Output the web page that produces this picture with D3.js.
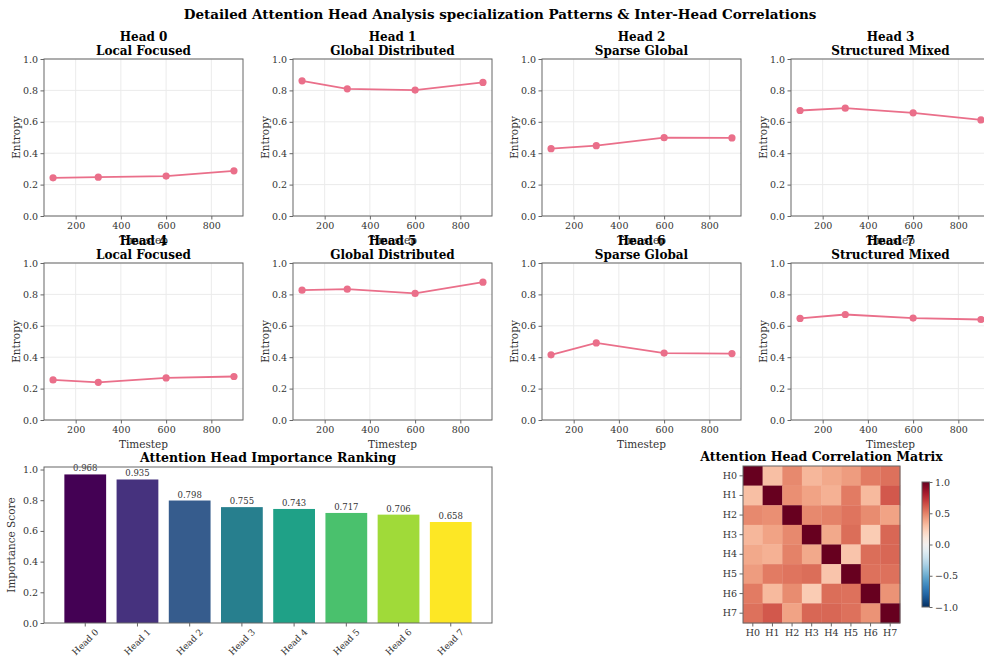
<!DOCTYPE html>
<html>
<head>
<meta charset="utf-8">
<script src="https://d3js.org/d3.v7.min.js"></script>
<style>
	body { margin: 0; background: #fff; }
	svg { display: block; font-family: "DejaVu Serif", serif; }
	.tick text { fill: #333; }
</style>
</head>
<body>
<div id="chart"></div>
<script>

// ---- data ----
var timesteps = [100, 300, 600, 900];
var headNames = ["Head 0", "Head 1", "Head 2", "Head 3", "Head 4", "Head 5", "Head 6", "Head 7"];
var headTypes = ["Local Focused", "Global Distributed", "Sparse Global", "Structured Mixed",
				 "Local Focused", "Global Distributed", "Sparse Global", "Structured Mixed"];
var entropy = [
	[0.243, 0.247, 0.254, 0.288],
	[0.861, 0.810, 0.802, 0.851],
	[0.429, 0.448, 0.499, 0.497],
	[0.672, 0.687, 0.657, 0.612],
	[0.255, 0.240, 0.268, 0.277],
	[0.827, 0.833, 0.806, 0.878],
	[0.415, 0.491, 0.426, 0.423],
	[0.647, 0.672, 0.649, 0.640]
];
var importance = [0.968, 0.935, 0.798, 0.755, 0.743, 0.717, 0.706, 0.658];
var corrLabels = ["H0", "H1", "H2", "H3", "H4", "H5", "H6", "H7"];
var corrMatrix = [
	[1.00, 0.30, 0.48, 0.33, 0.38, 0.42, 0.52, 0.55],
	[0.30, 1.00, 0.46, 0.40, 0.35, 0.52, 0.32, 0.62],
	[0.48, 0.46, 1.00, 0.48, 0.50, 0.54, 0.47, 0.40],
	[0.33, 0.40, 0.48, 1.00, 0.38, 0.56, 0.25, 0.58],
	[0.38, 0.35, 0.50, 0.38, 1.00, 0.28, 0.56, 0.58],
	[0.42, 0.52, 0.54, 0.56, 0.28, 1.00, 0.55, 0.55],
	[0.52, 0.32, 0.47, 0.25, 0.56, 0.55, 1.00, 0.45],
	[0.55, 0.62, 0.40, 0.58, 0.58, 0.55, 0.45, 1.00]
];
var yTicks = [0, 0.2, 0.4, 0.6, 0.8, 1.0];
var xTicks = [200, 400, 600, 800];
var cbarTicks = [1.0, 0.5, 0.0, -0.5, -1.0];

var W = 984, H = 662;
var lineColor = "#ea6f8a";
var spineColor = "#666";
var gridColor = "#ebebeb";

var svg = d3.select("#chart").append("svg")
	.attr("width", W)
	.attr("height", H);

// Figure title
svg.append("text")
	.attr("x", 500)
	.attr("y", 19)
	.attr("text-anchor", "middle")
	.attr("font-size", "13.5px")
	.attr("font-weight", "bold")
	.text("Detailed Attention Head Analysis specialization Patterns & Inter-Head Correlations");

// helper: a frame around an axes box
function drawFrame(g, w, h) {
	g.append("rect")
		.attr("width", w)
		.attr("height", h)
		.attr("fill", "none")
		.attr("stroke", spineColor)
		.attr("stroke-width", 1);
}

function styleAxis(sel) {
	sel.select(".domain").remove();
	sel.selectAll(".tick line").attr("stroke", spineColor);
	sel.selectAll(".tick text").attr("font-size", "9.5px").attr("font-family", "DejaVu Serif");
}

/*
 * Entropy line panels (2 rows x 4 columns)
 */
var colLeft = [44, 293, 542, 791];
var rowTop = [59, 263];
var pw = 199, ph = 157;

var x = d3.scaleLinear().domain([60, 940]).range([0, pw]);
var y = d3.scaleLinear().domain([0, 1]).range([ph, 0]);

var line = d3.line()
	.x(function(d, i) { return x(timesteps[i]); })
	.y(function(d) { return y(d); });

entropy.forEach(function(vals, k) {
	var g = svg.append("g")
		.attr("transform", "translate(" + colLeft[k % 4] + "," + rowTop[Math.floor(k / 4)] + ")");

	// grid
	g.selectAll(".hgrid").data(yTicks).enter().append("line")
		.attr("x1", 0).attr("x2", pw)
		.attr("y1", function(d) { return y(d); })
		.attr("y2", function(d) { return y(d); })
		.attr("stroke", gridColor);
	g.selectAll(".vgrid").data(xTicks).enter().append("line")
		.attr("y1", 0).attr("y2", ph)
		.attr("x1", function(d) { return x(d); })
		.attr("x2", function(d) { return x(d); })
		.attr("stroke", gridColor);

	g.append("g")
		.attr("transform", "translate(0," + ph + ")")
		.call(d3.axisBottom(x).tickValues(xTicks).tickSize(3.5).tickPadding(2.5).tickFormat(d3.format("d")))
		.call(styleAxis);
	g.append("g")
		.call(d3.axisLeft(y).tickValues(yTicks).tickSize(3.5).tickPadding(2.5).tickFormat(d3.format(".1f")))
		.call(styleAxis);

	g.append("path")
		.datum(vals)
		.attr("d", line)
		.attr("fill", "none")
		.attr("stroke", lineColor)
		.attr("stroke-width", 1.8);

	g.selectAll(".pt").data(vals).enter().append("circle")
		.attr("cx", function(d, i) { return x(timesteps[i]); })
		.attr("cy", function(d) { return y(d); })
		.attr("r", 3.6)
		.attr("fill", lineColor);

	drawFrame(g, pw, ph);

	// titles and labels
	g.append("text")
		.attr("x", pw / 2).attr("y", -18)
		.attr("text-anchor", "middle")
		.attr("font-size", "12px").attr("font-weight", "bold")
		.text(headNames[k]);
	g.append("text")
		.attr("x", pw / 2).attr("y", -4.5)
		.attr("text-anchor", "middle")
		.attr("font-size", "12px").attr("font-weight", "bold")
		.text(headTypes[k]);
	g.append("text")
		.attr("x", pw / 2).attr("y", ph + 28)
		.attr("text-anchor", "middle")
		.attr("font-size", "10.5px").attr("fill", "#333")
		.text("Timestep");
	g.append("text")
		.attr("transform", "translate(-24," + (ph / 2) + ") rotate(-90)")
		.attr("text-anchor", "middle")
		.attr("font-size", "10.5px").attr("fill", "#333")
		.text("Entropy");
});

/*
 * Importance ranking bar chart
 */
var bx0 = 44, by0 = 467, bw = 448, bh = 156;
var bg = svg.append("g").attr("transform", "translate(" + bx0 + "," + by0 + ")");

var xb = d3.scaleLinear().domain([-0.79, 7.79]).range([0, bw]);
var yb = d3.scaleLinear().domain([0, 0.968 * 1.05]).range([bh, 0]);
var barW = xb(0.8) - xb(0);

bg.append("g")
	.call(d3.axisLeft(yb).tickValues(yTicks).tickSize(3.5).tickPadding(2.5).tickFormat(d3.format(".1f")))
	.call(styleAxis);

bg.selectAll(".bar").data(importance).enter().append("rect")
	.attr("x", function(d, i) { return xb(i) - barW / 2; })
	.attr("y", function(d) { return yb(d); })
	.attr("width", barW)
	.attr("height", function(d) { return bh - yb(d); })
	.attr("fill", function(d, i) { return d3.interpolateViridis(i / 7); });

bg.selectAll(".val").data(importance).enter().append("text")
	.attr("x", function(d, i) { return xb(i); })
	.attr("y", function(d) { return yb(d) - 3; })
	.attr("text-anchor", "middle")
	.attr("font-size", "8.5px").attr("fill", "#333")
	.text(function(d) { return d3.format(".3f")(d); });

// rotated category labels
bg.selectAll(".xl").data(headNames).enter().append("text")
	.attr("transform", function(d, i) { return "translate(" + xb(i) + "," + (bh + 19) + ") rotate(-45)"; })
	.attr("text-anchor", "middle")
	.attr("dy", "0.35em")
	.attr("font-size", "9px").attr("fill", "#333")
	.text(function(d) { return d; });

bg.selectAll(".xt").data(headNames).enter().append("line")
	.attr("x1", function(d, i) { return xb(i); })
	.attr("x2", function(d, i) { return xb(i); })
	.attr("y1", bh).attr("y2", bh + 3.5)
	.attr("stroke", spineColor);

drawFrame(bg, bw, bh);

bg.append("text")
	.attr("x", bw / 2).attr("y", -5.5)
	.attr("text-anchor", "middle")
	.attr("font-size", "12.5px").attr("font-weight", "bold")
	.text("Attention Head Importance Ranking");
bg.append("text")
	.attr("transform", "translate(-29," + (bh / 2) + ") rotate(-90)")
	.attr("text-anchor", "middle")
	.attr("font-size", "10.5px").attr("fill", "#333")
	.text("Importance Score");

/*
 * Correlation heatmap
 */
var hx0 = 743, hy0 = 466, hs = 157;
var hg = svg.append("g").attr("transform", "translate(" + hx0 + "," + hy0 + ")");
var band = d3.scaleBand().domain(corrLabels).range([0, hs]);
var corrColor = function(v) { return d3.interpolateRdBu((1 - v) / 2); };

var cells = [];
corrMatrix.forEach(function(row, r) {
	row.forEach(function(v, c) { cells.push({ r: r, c: c, v: v }); });
});

hg.selectAll(".cell").data(cells).enter().append("rect")
	.attr("x", function(d) { return band(corrLabels[d.c]); })
	.attr("y", function(d) { return band(corrLabels[d.r]); })
	.attr("width", band.bandwidth() + 0.3)
	.attr("height", band.bandwidth() + 0.3)
	.attr("fill", function(d) { return corrColor(d.v); });

hg.append("g")
	.call(d3.axisLeft(band).tickSize(3.5).tickPadding(2.5))
	.call(styleAxis);
hg.append("g")
	.attr("transform", "translate(0," + hs + ")")
	.call(d3.axisBottom(band).tickSize(3.5).tickPadding(2.5))
	.call(styleAxis);

drawFrame(hg, hs, hs);

hg.append("text")
	.attr("x", hs / 2).attr("y", -5.5)
	.attr("text-anchor", "middle")
	.attr("font-size", "12.5px").attr("font-weight", "bold")
	.text("Attention Head Correlation Matrix");

// colorbar
var cbx = 922, cby = 482, cbw = 7.5, cbh = 125;
var defs = svg.append("defs");
var grad = defs.append("linearGradient")
	.attr("id", "cbar")
	.attr("x1", 0).attr("y1", 1).attr("x2", 0).attr("y2", 0);
d3.range(0, 1.0001, 0.05).forEach(function(t) {
	grad.append("stop")
		.attr("offset", t)
		.attr("stop-color", corrColor(t * 2 - 1));
});
var cg = svg.append("g").attr("transform", "translate(" + cbx + "," + cby + ")");
cg.append("rect")
	.attr("width", cbw).attr("height", cbh)
	.attr("fill", "url(#cbar)");
var yc = d3.scaleLinear().domain([-1, 1]).range([cbh, 0]);
cg.append("g")
	.attr("transform", "translate(" + cbw + ",0)")
	.call(d3.axisRight(yc).tickValues(cbarTicks).tickSize(3).tickPadding(2.5)
		.tickFormat(function(d) { return d3.format(".1f")(d).replace("-", "\u2212"); }))
	.call(styleAxis);
drawFrame(cg, cbw, cbh);

</script>
</body>
</html>
